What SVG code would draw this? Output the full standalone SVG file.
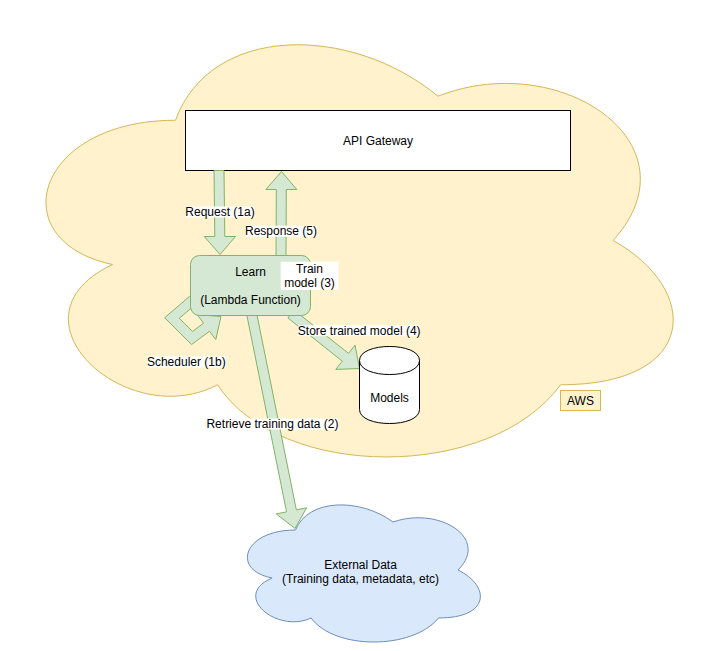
<svg xmlns="http://www.w3.org/2000/svg" width="701" height="651" viewBox="0 0 701 651">
<style>
text{font-family:"Liberation Sans",Arial,sans-serif;font-size:12px;fill:#000;text-anchor:middle}
.arrow{fill:#d5e8d4;stroke:#82b366;stroke-width:1;stroke-linejoin:miter}
.lbl{fill:#fff;stroke:none}
</style>
<rect width="701" height="651" fill="#fff"/>
<g id="aws-cloud">
<path d="M175.5,120.25 C35.5,120.25 0.5,240.5 112.5,264.55 C0.5,317.46 126.5,432.9 217.5,384.8 C280.5,481 490.5,481 560.5,384.8 C700.5,384.8 700.5,288.6 613,240.5 C700.5,144.3 560.5,48.1 438,96.2 C350.5,24.05 210.5,24.05 175.5,120.25 Z" fill="#fff2cc" stroke="#d6b656"/>
</g>
<g id="aws-label">
<rect x="560.5" y="390.5" width="40" height="20" fill="#fff2cc" stroke="#d6b656"/>
<text x="580.5" y="404.5">AWS</text>
</g>
<g id="external-data">
<path d="M295.5,530 C243.5,530 230.5,570 272.1,578 C230.5,595.6 277.3,634 311.1,618 C334.5,650 412.5,650 438.5,618 C490.5,618 490.5,586 458,570 C490.5,538 438.5,506 393,522 C360.5,498 308.5,498 295.5,530 Z" fill="#dae8fc" stroke="#6c8ebf"/>
<text x="360.5" y="569">External Data</text>
<text x="360.5" y="582.5">(Training data, metadata, etc)</text>
</g>
<g id="api-gateway">
<rect x="185.5" y="110.5" width="385" height="60" fill="#fff" stroke="#000"/>
<text x="378" y="145">API Gateway</text>
</g>
<g id="connectors">
<polygon class="arrow" points="224,170.5 224.8,236.5 235.5,236.5 220,254.5 204.3,236.5 214.8,236.5 214,170.5"/>
<polygon class="arrow" points="286,255.5 286.3,189.5 296.8,189.5 281.5,171.5 265.8,189.5 276.3,189.5 276,255.5"/>
<polygon class="arrow" points="287.89,317.91 342.3,361.2 335.75,369.42 359.5,368.5 355.06,345.16 348.52,353.38 294.11,310.09"/>
<polygon class="arrow" points="246.8,315 286.54,511.84 276.25,513.92 295,528.5 306.63,507.78 296.34,509.86 256.6,313"/>
<polygon class="arrow" points="189.75,296.2 164.65,317.72 191.52,344.59 209.52,331.24 215.78,339.67 221,316.5 197.3,314.77 203.56,323.21 192.49,331.41 179.35,318.28 196.26,303.8"/>
<rect class="lbl" x="186" y="206.5" width="68" height="11"/>
<text x="220" y="215.8">Request (1a)</text>
<rect class="lbl" x="245.5" y="225.7" width="71" height="11"/>
<text x="281" y="235.1">Response (5)</text>
<rect class="lbl" x="298.3" y="325.2" width="121.7" height="11"/>
<text x="359.2" y="335">Store trained model (4)</text>
<rect class="lbl" x="147" y="356.5" width="78.6" height="11"/>
<text x="186.3" y="366">Scheduler (1b)</text>
<rect class="lbl" x="206.7" y="418.5" width="131.6" height="11"/>
<text x="272.5" y="428.2">Retrieve training data (2)</text>
</g>
<g id="learn">
<rect x="190.5" y="255.5" width="120" height="60" rx="9" ry="9" fill="#d5e8d4" stroke="#82b366"/>
<text x="250.5" y="275.7">Learn</text>
<text x="250.5" y="303.5">(Lambda Function)</text>
</g>
<g id="train-model">
<rect class="lbl" x="280.7" y="261.7" width="57.6" height="28.3"/>
<text x="309.5" y="273">Train</text>
<text x="309.5" y="287.3">model (3)</text>
</g>
<g id="models">
<path d="M359.5,360.5 C359.5,341.8 419.5,341.8 419.5,360.5 L419.5,409.5 C419.5,428.2 359.5,428.2 359.5,409.5 Z" fill="#fff" stroke="#000"/>
<path d="M359.5,360.5 C359.5,379.2 419.5,379.2 419.5,360.5" fill="none" stroke="#000"/>
<text x="389.5" y="402.3">Models</text>
</g>
</svg>
